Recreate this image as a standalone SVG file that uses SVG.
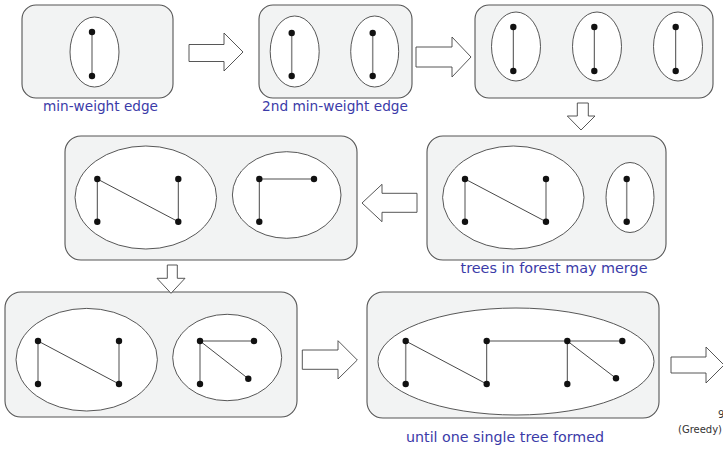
<svg xmlns="http://www.w3.org/2000/svg" width="723" height="452" viewBox="0 0 723 452">
<style>
.panel{fill:#f2f3f3;stroke:#555;stroke-width:1.1}
.ell{fill:#fff;stroke:#444;stroke-width:0.9}
.e{stroke:#888;stroke-width:1.5;fill:none}
.d{stroke:#333;stroke-width:0.9;fill:none}
.n{fill:#111}
.arr{fill:#fff;stroke:#444;stroke-width:0.9}
.lbl{font-family:"DejaVu Sans",sans-serif;font-size:14px;fill:#3b3ba8;text-anchor:middle}
.sm{font-family:"DejaVu Sans",sans-serif;font-size:10px;fill:#333}
</style>
<rect width="723" height="452" fill="#fff"/>

<g id="panel1">
<rect class="panel" x="22" y="5" width="151" height="93" rx="14"/>
<ellipse class="ell" cx="94.5" cy="52" rx="24.5" ry="35"/>
<line class="e" x1="92" y1="32" x2="92" y2="76"/>
<circle class="n" cx="92" cy="32" r="3.2"/><circle class="n" cx="92" cy="76" r="3.2"/>
<text class="lbl" x="100.5" y="111" textLength="115" lengthAdjust="spacingAndGlyphs">min-weight edge</text>
</g>

<g id="panel2">
<rect class="panel" x="259" y="5" width="153" height="93" rx="14"/>
<ellipse class="ell" cx="294.7" cy="51.5" rx="24.5" ry="35.5"/>
<ellipse class="ell" cx="374.7" cy="51.5" rx="24" ry="35.5"/>
<line class="e" x1="291.7" y1="33" x2="291.7" y2="76"/>
<line class="e" x1="372.7" y1="33" x2="372.7" y2="76"/>
<circle class="n" cx="291.7" cy="33" r="3.2"/><circle class="n" cx="291.7" cy="76" r="3.2"/>
<circle class="n" cx="372.7" cy="33" r="3.2"/><circle class="n" cx="372.7" cy="76" r="3.2"/>
<text class="lbl" x="335" y="111" textLength="146" lengthAdjust="spacingAndGlyphs">2nd min-weight edge</text>
</g>

<g id="panel3">
<rect class="panel" x="475" y="5" width="238" height="93" rx="14"/>
<ellipse class="ell" cx="516" cy="46.5" rx="24.5" ry="34.5"/>
<ellipse class="ell" cx="597" cy="46.5" rx="24.5" ry="34.5"/>
<ellipse class="ell" cx="678" cy="46.5" rx="24.5" ry="34.5"/>
<line class="d" x1="513.3" y1="27" x2="513.3" y2="71"/>
<line class="d" x1="594.3" y1="27" x2="594.3" y2="71"/>
<line class="d" x1="675.7" y1="27" x2="675.7" y2="71"/>
<circle class="n" cx="513.3" cy="27" r="3.2"/><circle class="n" cx="513.3" cy="71" r="3.2"/>
<circle class="n" cx="594.3" cy="27" r="3.2"/><circle class="n" cx="594.3" cy="71" r="3.2"/>
<circle class="n" cx="675.7" cy="27" r="3.2"/><circle class="n" cx="675.7" cy="71" r="3.2"/>
</g>

<g id="panel4">
<rect class="panel" x="427" y="136" width="239" height="124" rx="16"/>
<ellipse class="ell" cx="513.3" cy="197.5" rx="70.7" ry="51.5"/>
<ellipse class="ell" cx="630" cy="197.5" rx="24" ry="35"/>
<line class="e" x1="465" y1="179" x2="465" y2="221.7"/>
<line class="d" x1="465" y1="179" x2="546" y2="221.7"/>
<line class="e" x1="546" y1="179" x2="546" y2="221.7"/>
<line class="e" x1="626.7" y1="179" x2="626.7" y2="221.7"/>
<circle class="n" cx="465" cy="179" r="3.2"/><circle class="n" cx="465" cy="221.7" r="3.2"/>
<circle class="n" cx="546" cy="179" r="3.2"/><circle class="n" cx="546" cy="221.7" r="3.2"/>
<circle class="n" cx="626.7" cy="179" r="3.2"/><circle class="n" cx="626.7" cy="221.7" r="3.2"/>
<text class="lbl" x="554" y="273" textLength="187" lengthAdjust="spacingAndGlyphs">trees in forest may merge</text>
</g>

<g id="panel5">
<rect class="panel" x="65" y="136" width="292" height="124" rx="16"/>
<ellipse class="ell" cx="145.8" cy="197.5" rx="70.8" ry="51.5"/>
<ellipse class="ell" cx="286.7" cy="195" rx="54.3" ry="43.3"/>
<line class="d" x1="97.3" y1="179" x2="97.3" y2="221.7"/>
<line class="d" x1="97.3" y1="179" x2="178.3" y2="221.7"/>
<line class="d" x1="178.3" y1="179" x2="178.3" y2="221.7"/>
<line class="e" x1="259.3" y1="179" x2="314" y2="179"/>
<line class="d" x1="259.3" y1="179" x2="259.3" y2="221.7"/>
<circle class="n" cx="97.3" cy="179" r="3.2"/><circle class="n" cx="97.3" cy="221.7" r="3.2"/>
<circle class="n" cx="178.3" cy="179" r="3.2"/><circle class="n" cx="178.3" cy="221.7" r="3.2"/>
<circle class="n" cx="259.3" cy="179" r="3.2"/><circle class="n" cx="314" cy="179" r="3.2"/>
<circle class="n" cx="259.3" cy="221.7" r="3.2"/>
</g>

<g id="panel6">
<rect class="panel" x="5" y="292" width="292" height="125" rx="16"/>
<ellipse class="ell" cx="86.7" cy="359.7" rx="70.7" ry="51.3"/>
<ellipse class="ell" cx="227.2" cy="357.5" rx="54.5" ry="43.2"/>
<line class="e" x1="38" y1="341" x2="38" y2="384"/>
<line class="d" x1="38" y1="341" x2="119" y2="384"/>
<line class="e" x1="119" y1="341" x2="119" y2="384"/>
<line class="e" x1="200" y1="341" x2="254" y2="341"/>
<line class="e" x1="200" y1="341" x2="200" y2="384"/>
<line class="d" x1="200" y1="341" x2="248.3" y2="378.7"/>
<circle class="n" cx="38" cy="341" r="3.2"/><circle class="n" cx="38" cy="384" r="3.2"/>
<circle class="n" cx="119" cy="341" r="3.2"/><circle class="n" cx="119" cy="384" r="3.2"/>
<circle class="n" cx="200" cy="341" r="3.2"/><circle class="n" cx="254" cy="341" r="3.2"/>
<circle class="n" cx="200" cy="384" r="3.2"/><circle class="n" cx="248.3" cy="378.7" r="3.2"/>
</g>

<g id="panel7">
<rect class="panel" x="367" y="292" width="292" height="126" rx="16"/>
<ellipse class="ell" cx="516" cy="361.5" rx="138" ry="53.5"/>
<line class="e" x1="405.7" y1="341" x2="405.7" y2="384"/>
<line class="d" x1="405.7" y1="341" x2="486.7" y2="384"/>
<line class="d" x1="486.7" y1="341" x2="486.7" y2="384"/>
<line class="e" x1="486.7" y1="341" x2="622.3" y2="341"/>
<line class="d" x1="567.3" y1="341" x2="567.3" y2="384"/>
<line class="d" x1="567.3" y1="341" x2="616" y2="378.3"/>
<circle class="n" cx="405.7" cy="341" r="3.2"/><circle class="n" cx="405.7" cy="384" r="3.2"/>
<circle class="n" cx="486.7" cy="341" r="3.2"/><circle class="n" cx="486.7" cy="384" r="3.2"/>
<circle class="n" cx="567.3" cy="341" r="3.2"/><circle class="n" cx="567.3" cy="384" r="3.2"/>
<circle class="n" cx="622.3" cy="341" r="3.2"/><circle class="n" cx="616" cy="378.3" r="3.2"/>
<text class="lbl" x="505" y="442" textLength="198" lengthAdjust="spacingAndGlyphs">until one single tree formed</text>
</g>

<g id="connectors">
<polygon class="arr" points="189,44.5 224,44.5 224,33 243,52 224,71 224,61.5 189,61.5"/>
<polygon class="arr" points="416,47 452,47 452,37 471,57 452,77 452,67 416,67"/>
<polygon class="arr" points="577.3,103 588.3,103 588.3,116 595,116 581,130 567.3,116 577.3,116"/>
<polygon class="arr" points="417,193.3 382,193.3 382,184.3 362,203 382,221.7 382,212.3 417,212.3"/>
<polygon class="arr" points="167.3,265 177.3,265 177.3,278.3 185,278.3 171,293.3 157,278.3 167.3,278.3"/>
<polygon class="arr" points="302.3,350 338,350 338,340.7 357.3,360 338,379 338,369.3 302.3,369.3"/>
<polygon class="arr" points="671,357 706,357 706,347 724,365 706,383 706,373 671,373"/>
</g>

<text class="sm" x="718" y="418">9</text>
<text class="sm" x="678" y="433">(Greedy)</text>
</svg>
